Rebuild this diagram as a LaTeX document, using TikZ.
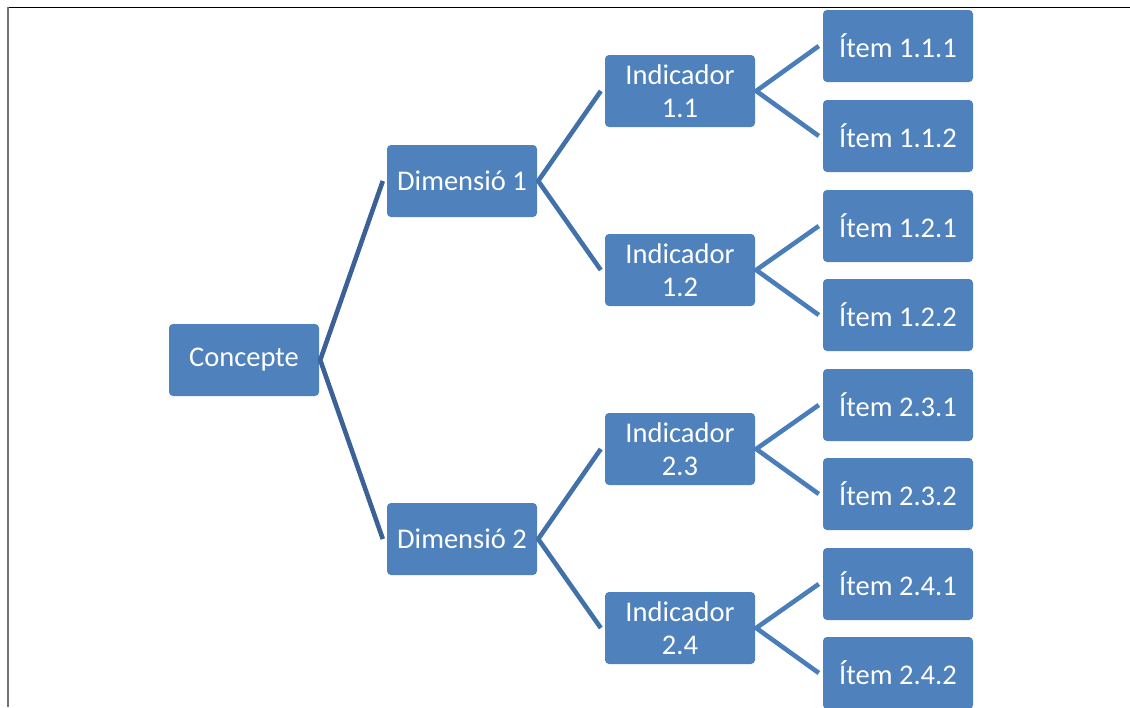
\documentclass[tikz,border=0pt]{standalone}
\usepackage{fontspec}
\setmainfont{Carlito}
\usetikzlibrary{calc}
\definecolor{boxblue}{HTML}{4F81BD}
\definecolor{linkA}{HTML}{3B6196}
\definecolor{linkB}{HTML}{4270A8}
\definecolor{linkC}{HTML}{4A7EBB}
\tikzset{
  box/.style={rectangle, rounded corners=4pt, fill=boxblue, text=white,
    minimum width=150pt, minimum height=72pt, inner sep=2pt, align=center,
    font=\fontsize{28.5}{33}\selectfont},
  link/.style={line width=4.6pt, line join=miter, line cap=butt},
}
\begin{document}
\begin{tikzpicture}[x=1pt,y=-1pt]
\useasboundingbox (0,0) rectangle (1130,707);
% page frame
\draw[black, line width=1.8pt] (7,7.5) -- (1130,7.5);
\draw[black!55, line width=2.2pt] (8,7) -- (8,707);

% nodes
\node[box] (c)   at (244,360) {Concepte};
\node[box] (d1)  at (462,181) {Dimensió 1};
\node[box] (d2)  at (462,539) {Dimensió 2};
\node[box] (i11) at (680,91)  {Indicador\\1.1};
\node[box] (i12) at (680,270) {Indicador\\1.2};
\node[box] (i23) at (680,449) {Indicador\\2.3};
\node[box] (i24) at (680,628) {Indicador\\2.4};
\node[box] (t111) at (898,46)  {Ítem 1.1.1};
\node[box] (t112) at (898,136) {Ítem 1.1.2};
\node[box] (t121) at (898,226) {Ítem 1.2.1};
\node[box] (t122) at (898,315) {Ítem 1.2.2};
\node[box] (t231) at (898,405) {Ítem 2.3.1};
\node[box] (t232) at (898,494) {Ítem 2.3.2};
\node[box] (t241) at (898,584) {Ítem 2.4.1};
\node[box] (t242) at (898,673) {Ítem 2.4.2};

% bracket connectors: parent east -> children
\draw[link, linkA] ($(d1.west)+(-4,0)$) -- ($(c.east)+(1,0)$) -- ($(d2.west)+(-4,0)$);
\draw[link, linkB] ($(i11.west)+(-4,0)$) -- ($(d1.east)+(1,0)$) -- ($(i12.west)+(-4,0)$);
\draw[link, linkB] ($(i23.west)+(-4,0)$) -- ($(d2.east)+(1,0)$) -- ($(i24.west)+(-4,0)$);
\draw[link, linkC] ($(t111.west)+(-4,0)$) -- ($(i11.east)+(1,0)$) -- ($(t112.west)+(-4,0)$);
\draw[link, linkC] ($(t121.west)+(-4,0)$) -- ($(i12.east)+(1,0)$) -- ($(t122.west)+(-4,0)$);
\draw[link, linkC] ($(t231.west)+(-4,0)$) -- ($(i23.east)+(1,0)$) -- ($(t232.west)+(-4,0)$);
\draw[link, linkC] ($(t241.west)+(-4,0)$) -- ($(i24.east)+(1,0)$) -- ($(t242.west)+(-4,0)$);
\end{tikzpicture}
\end{document}
